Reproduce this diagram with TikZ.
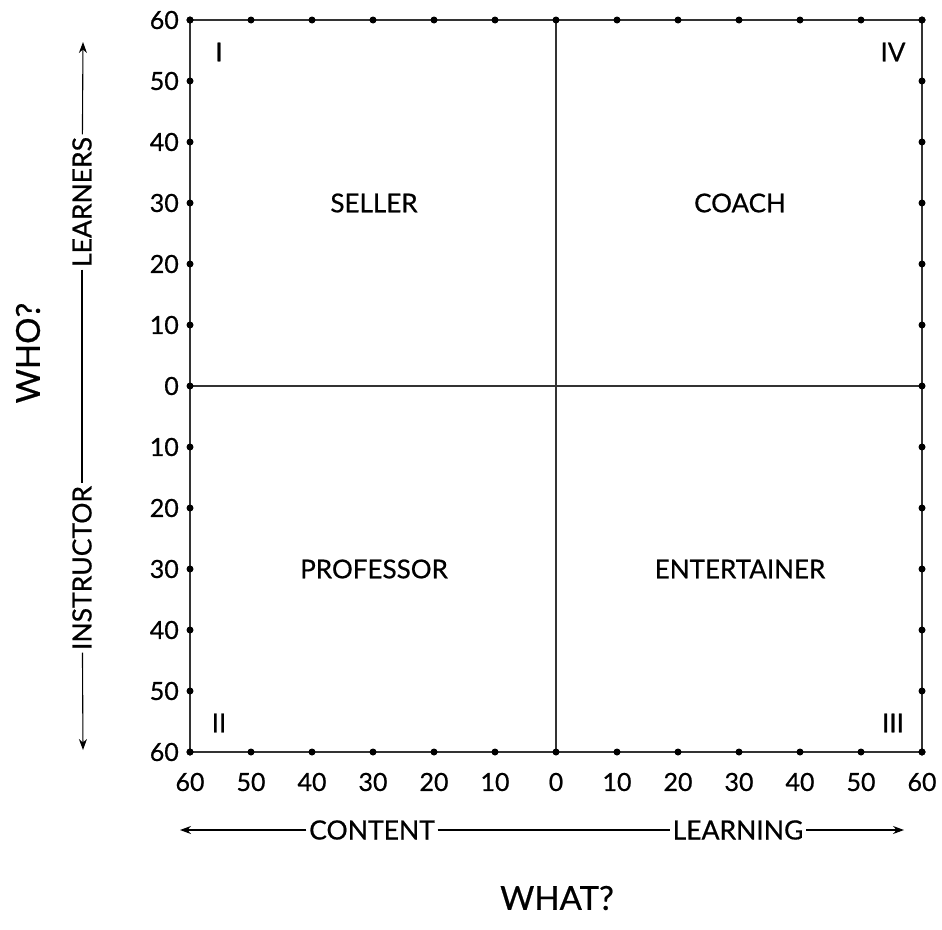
\documentclass[tikz,border=0pt]{standalone}
\usepackage{fontspec}
\setmainfont{Lato}[FakeBold=0.6]
\usetikzlibrary{arrows.meta}
\definecolor{ln}{HTML}{333333}
\begin{document}
\begin{tikzpicture}[x=1pt,y=-1pt,
  gridline/.style={draw=ln,line width=1.8pt},
  tickdot/.style={circle,fill=black,inner sep=0pt,minimum size=7pt},
  num/.style={font=\fontsize{25}{25}\selectfont,inner sep=0pt},
  quad/.style={font=\fontsize{26}{26}\selectfont,inner sep=0pt},
  axislab/.style={font=\fontsize{26.5}{26.5}\selectfont,inner sep=2.5pt},
  axisline/.style={draw=black,line width=1.1pt},
  tip/.style={-{Stealth[length=11pt,width=8pt]}},
  big/.style={font=\fontsize{33}{33}\selectfont,inner sep=0pt}]
\useasboundingbox (0,0) rectangle (942,929);
% frame and cross
\coordinate (tl) at (190,20);
\coordinate (tr) at (922,20);
\coordinate (bl) at (190,752);
\coordinate (br) at (922,752);
\coordinate (tc) at (556,20);
\coordinate (bc) at (556,752);
\coordinate (lc) at (190,386);
\coordinate (rc) at (922,386);
\draw[gridline] (tl) -- (tr) -- (br) -- (bl) -- cycle;
\draw[gridline] (tc) -- (bc);
\draw[gridline] (lc) -- (rc);
% dots
\foreach \i in {0,...,12}{
  \node[tickdot] (dt\i) at (190+61*\i,20) {};
  \node[tickdot] (db\i) at (190+61*\i,752) {};
  \node[tickdot] (dl\i) at (190,20+61*\i) {};
  \node[tickdot] (dr\i) at (922,20+61*\i) {};
}
% numbers
\foreach \i/\v in {0/60,1/50,2/40,3/30,4/20,5/10,6/0,7/10,8/20,9/30,10/40,11/50,12/60}{
  \node[num,anchor=east] (nl\i) at (179,20+61*\i) {\v};
  \node[num] (nb\i) at (190+61*\i,782) {\v};
}
% quadrant labels
\node[quad] (seller) at (374,203) {SELLER};
\node[quad] (coach) at (740,203) {COACH};
\node[quad] (prof) at (374,569) {PROFESSOR};
\node[quad] (ent) at (740,569) {ENTERTAINER};
\node[quad] (q1) at (219,52) {I};
\node[quad] (q4) at (893,52) {IV};
\node[quad] (q2) at (219,723) {II};
\node[quad] (q3) at (893,723) {III};
% vertical axis
\coordinate (vtop) at (83,42);
\coordinate (vbot) at (83,750);
\node[axislab,rotate=90] (learners) at (82,202) {LEARNERS};
\node[axislab,rotate=90] (instr) at (82,568) {INSTRUCTOR};
\draw[axisline,tip] (learners) -- (vtop);
\draw[axisline] (learners) -- (instr);
\draw[axisline,tip] (instr) -- (vbot);
\node[big,rotate=90] (who) at (28,353) {WHO?};
% horizontal axis
\coordinate (hleft) at (180,830);
\coordinate (hright) at (904,830);
\node[axislab] (content) at (372,830) {CONTENT};
\node[axislab] (learning) at (738,830) {LEARNING};
\draw[axisline,tip] (content) -- (hleft);
\draw[axisline] (content) -- (learning);
\draw[axisline,tip] (learning) -- (hright);
\node[big] (what) at (557,898) {WHAT?};
\end{tikzpicture}
\end{document}
